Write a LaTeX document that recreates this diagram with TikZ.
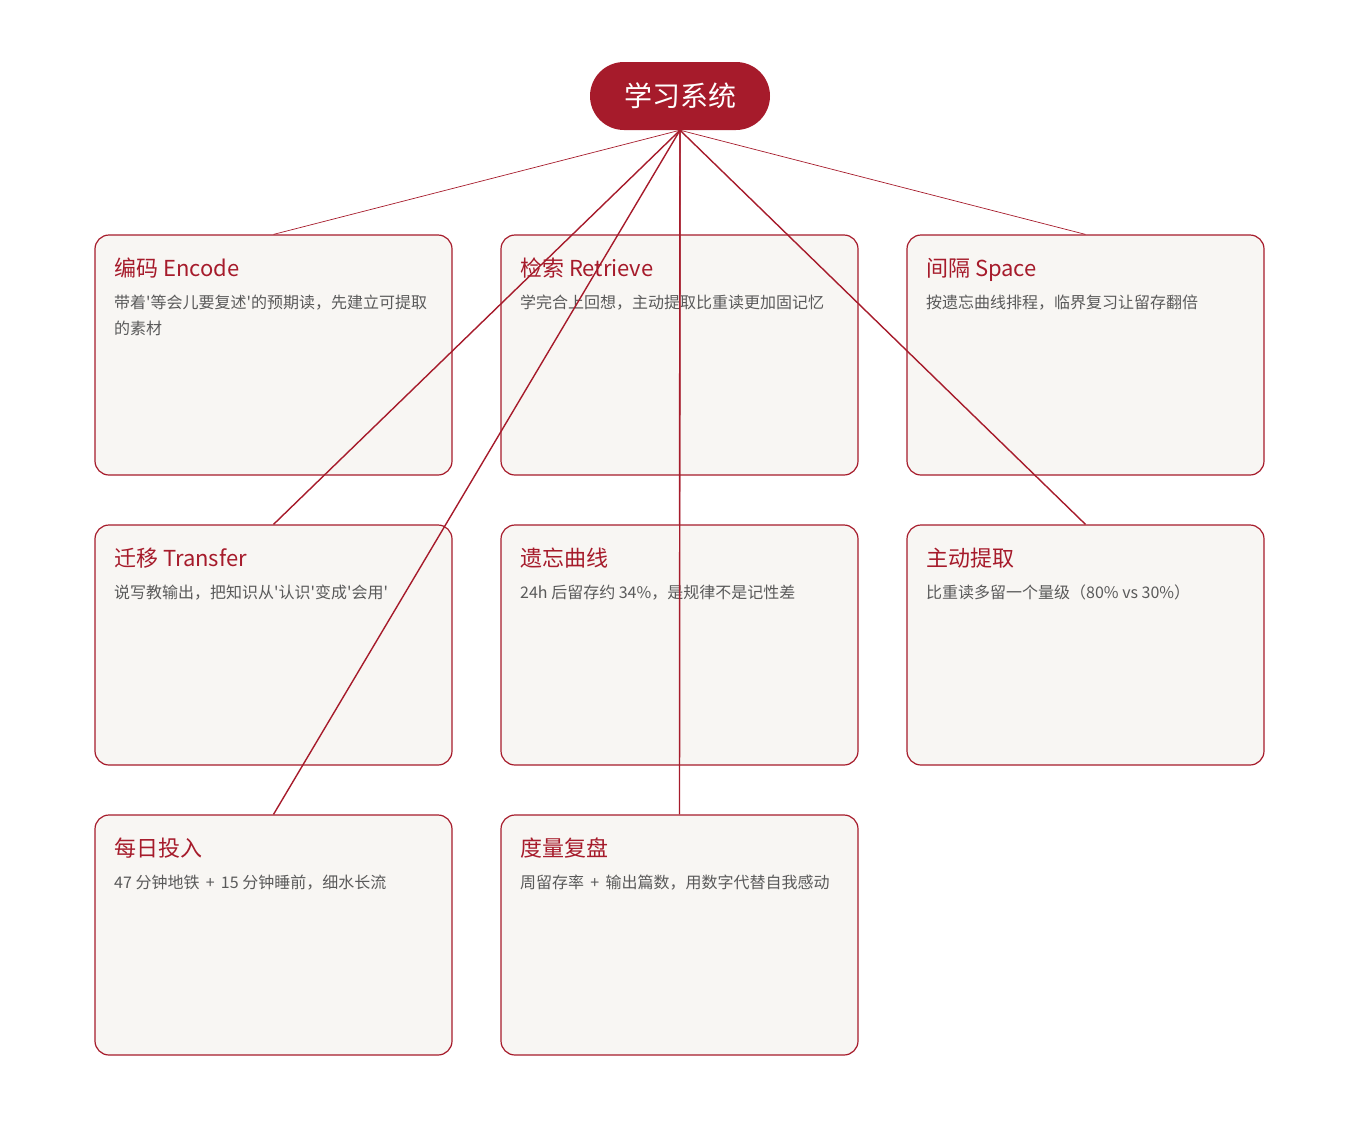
\documentclass[tikz,border=0pt]{standalone}
\usepackage{fontspec}
\setmainfont{Noto Sans CJK SC}[Ligatures=TeXOff]
\definecolor{crim}{HTML}{A61B2B}
\definecolor{cardbg}{HTML}{F8F6F3}
\definecolor{desc}{HTML}{5A5A5A}
\tikzset{
  card/.style={draw=crim, line width=1.2pt, fill=cardbg, rounded corners=14pt, minimum width=357pt, minimum height=240pt, inner sep=0pt},
  ctitle/.style={anchor=base west, text=crim, font=\fontsize{22}{26}\selectfont, inner sep=0pt},
  cdesc/.style={anchor=base west, text=desc, font=\fontsize{16}{26}\selectfont, inner sep=0pt, align=left},
  hubbox/.style={fill=crim, rounded corners=34pt, minimum width=180pt, minimum height=68pt, text=white, font=\fontsize{28}{30}\selectfont, inner sep=0pt},
  thinlink/.style={draw=crim, line width=0.7pt},
  link/.style={draw=crim, line width=1.4pt}
}
\begin{document}
\begin{tikzpicture}[x=1pt,y=-1pt]
\useasboundingbox (0,0) rectangle (1360,1120);
\node[hubbox] (hub) at (680,96) {学习系统};
% row 1
\node[card] (enc) at (273.5,355) {};
\node[ctitle] (encT) at (114,276) {编码 Encode};
\node[cdesc, anchor=north west] (encD) at (114,294.5) {带着'等会儿要复述'的预期读，先建立可提取\\的素材};
\node[card] (ret) at (679.5,355) {};
\node[ctitle] (retT) at (520,276) {检索 Retrieve};
\node[cdesc] (retD) at (520,308) {学完合上回想，主动提取比重读更加固记忆};
\node[card] (spa) at (1085.5,355) {};
\node[ctitle] (spaT) at (926,276) {间隔 Space};
\node[cdesc] (spaD) at (926,308) {按遗忘曲线排程，临界复习让留存翻倍};
% row 2
\node[card] (tra) at (273.5,645) {};
\node[ctitle] (traT) at (114,566) {迁移 Transfer};
\node[cdesc] (traD) at (114,598) {说写教输出，把知识从'认识'变成'会用'};
\node[card] (cur) at (679.5,645) {};
\node[ctitle] (curT) at (520,566) {遗忘曲线};
\node[cdesc] (curD) at (520,598) {24h 后留存约 34\%，是规律不是记性差};
\node[card] (act) at (1085.5,645) {};
\node[ctitle] (actT) at (926,566) {主动提取};
\node[cdesc] (actD) at (926,598) {比重读多留一个量级（80\% vs 30\%）};
% row 3
\node[card] (day) at (273.5,935) {};
\node[ctitle] (dayT) at (114,856) {每日投入};
\node[cdesc] (dayD) at (114,888) {47 分钟地铁 \,+\, 15 分钟睡前，细水长流};
\node[card] (mea) at (679.5,935) {};
\node[ctitle] (meaT) at (520,856) {度量复盘};
\node[cdesc] (meaD) at (520,888) {周留存率 \,+\, 输出篇数，用数字代替自我感动};
% connectors
\draw[thinlink] (hub.south) -- (enc.north);
\draw[thinlink] (hub.south) -- (ret.north);
\draw[thinlink] (hub.south) -- (spa.north);
\draw[link] (hub.south) -- (tra.north);
\draw[link] (hub.south) -- (cur.north);
\draw[link] (hub.south) -- (act.north);
\draw[link] (hub.south) -- (day.north);
\draw[link] (hub.south) -- (mea.north);
\end{tikzpicture}
\end{document}
